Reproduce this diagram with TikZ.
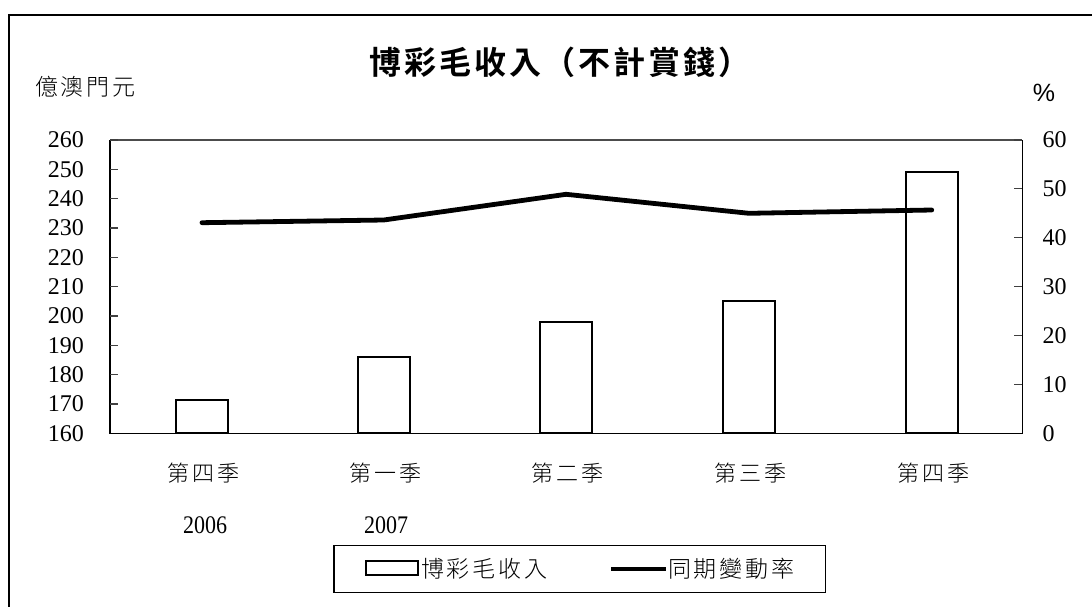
\documentclass[tikz,border=0pt]{standalone}
\usepackage{fontspec}
\setmainfont{Liberation Serif}
\newfontfamily\cjk{Noto Sans CJK TC Light}[LetterSpace=12]
\newfontfamily\cjkb{Noto Sans CJK TC Bold}[LetterSpace=9]
\newfontfamily\pctfont{Liberation Sans}
\begin{document}
\begin{tikzpicture}[x=1pt,y=-1pt,
  axisline/.style={line width=1.2pt, black},
  tickline/.style={line width=1.2pt, black!75},
  barbox/.style={draw=black, line width=2pt, fill=white},
  rateline/.style={line width=4.8pt, black, line cap=round, line join=round},
  numlbl/.style={font=\fontsize{24}{24}\selectfont, inner sep=0pt},
  cjklbl/.style={font=\cjk\fontsize{22}{22}\selectfont, inner sep=0pt},
  leglbl/.style={font=\cjk\fontsize{23}{23}\selectfont, inner sep=0pt},
  yearlbl/.style={font=\fontsize{22}{22}\selectfont, inner sep=0pt, yscale=1.15},
]
\useasboundingbox (0,0) rectangle (1092,606);
\clip (0,0) rectangle (1092,606);
% outer frame
\draw[line width=2.6pt] (9,620) -- (9,15) -- (1110,15);
% title
\node[font=\cjkb\fontsize{32}{32}\selectfont, inner sep=0pt] (title) at (560,62) {博彩毛收入（不計賞錢）};
\node[leglbl, anchor=west] (yunit) at (35,87) {億澳門元};
\node[font=\pctfont\fontsize{25}{25}\selectfont, inner sep=0pt] (pct) at (1044,93) {\%};
% plot area
\draw[line width=1.2pt, black!70] (110,140) -- (1022.3,140);
\draw[axisline] (110,140) -- (110,433.3) -- (1022.3,433.3) -- (1022.3,140);
% left axis
\foreach \i in {0,...,10}{
  \pgfmathsetmacro{\yy}{433.3-29.333*\i}
  \pgfmathtruncatemacro{\vv}{160+10*\i}
  \ifnum\i>0 \draw[tickline] (110,\yy) -- (118,\yy);\fi
  \node[numlbl, anchor=east] (L\i) at (84,\yy) {\vv};
}
% right axis
\foreach \i in {0,...,6}{
  \pgfmathsetmacro{\yy}{433.3-48.889*\i}
  \pgfmathtruncatemacro{\vv}{10*\i}
  \ifnum\i>0 \ifnum\i<6 \draw[tickline] (1022.3,\yy) -- (1014,\yy);\fi\fi
  \node[numlbl, anchor=west] (R\i) at (1042.5,\yy) {\vv};
}
\draw[tickline] (1022.3,140) -- (1014,140);
% bars
\foreach \cx/\top [count=\k] in {202/400, 383.7/357.3, 566/322.3, 749/300.7, 931.7/171.7}{
  \draw[barbox] (\cx-26,433.3) rectangle (\cx+26,\top);
  \coordinate (B\k) at (\cx,\top);
}
% rate line
\coordinate (P1) at (202,222.7);
\coordinate (P2) at (383.7,220);
\coordinate (P3) at (566,194.3);
\coordinate (P4) at (749,213.3);
\coordinate (P5) at (931.7,210);
\draw[rateline] (P1) -- (P2) -- (P3) -- (P4) -- (P5);
% category labels
\node[cjklbl] (c1) at (203.5,473) {第四季};
\node[cjklbl] (c2) at (385.5,473) {第一季};
\node[cjklbl] (c3) at (567.5,473) {第二季};
\node[cjklbl] (c4) at (750.5,473) {第三季};
\node[cjklbl] (c5) at (933.5,473) {第四季};
\node[yearlbl] (y1) at (205,525) {2006};
\node[yearlbl] (y2) at (386,525) {2007};
% legend
\draw[line width=1.2pt] (334,545.7) rectangle (825.7,592.7);
\draw[line width=2pt] (365.7,561) rectangle (417.7,575);
\node[leglbl, anchor=west] (lg1) at (421,569) {博彩毛收入};
\coordinate (la) at (611,569);
\coordinate (lb) at (666,569);
\draw[line width=4.8pt] (la) -- (lb);
\node[leglbl, anchor=west] (lg2) at (668,569) {同期變動率};
\end{tikzpicture}
\end{document}
